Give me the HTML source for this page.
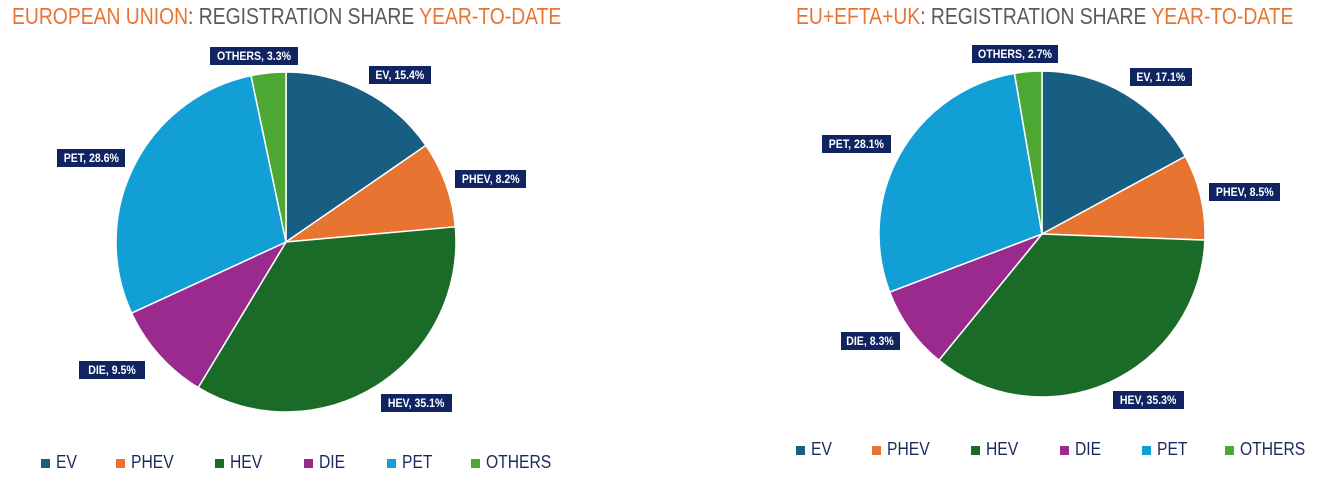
<!DOCTYPE html>
<html><head><meta charset="utf-8"><style>
html,body{margin:0;padding:0;background:#fff;}
body{width:1336px;height:483px;position:relative;overflow:hidden;font-family:"Liberation Sans",sans-serif;}
.t{position:absolute;top:3px;font-size:23px;color:#595959;white-space:nowrap;transform:scaleX(0.84);transform-origin:0 0;}
.o{color:#e87432}
.lb{position:absolute;background:#0f2460;color:#fff;font-weight:bold;font-size:12px;height:18px;line-height:18px;text-align:center;white-space:nowrap;overflow:hidden;}
.lb span{display:inline-block;transform:scaleX(0.88);}
.lg{position:absolute;font-size:18px;color:#1a2a5e;white-space:nowrap;transform:scaleX(0.87);transform-origin:0 0;}
.sq{position:absolute;width:9px;height:9px;}
</style></head><body>
<div class="t" style="left:12px"><span class="o">EUROPEAN UNION</span>: REGISTRATION SHARE <span class="o">YEAR-TO-DATE</span></div>
<div class="t" style="left:796px"><span class="o">EU+EFTA+UK</span>: REGISTRATION SHARE <span class="o">YEAR-TO-DATE</span></div>
<svg id="s" width="1336" height="483" style="position:absolute;left:0;top:0"></svg>
<div class="lb" style="left:210px;top:47px;width:88px"><span>OTHERS, 3.3%</span></div>
<div class="lb" style="left:369px;top:66px;width:62px"><span>EV, 15.4%</span></div>
<div class="lb" style="left:455px;top:170px;width:71px"><span>PHEV, 8.2%</span></div>
<div class="lb" style="left:57px;top:149px;width:68px"><span>PET, 28.6%</span></div>
<div class="lb" style="left:79px;top:361px;width:66px"><span>DIE, 9.5%</span></div>
<div class="lb" style="left:381px;top:394px;width:71px"><span>HEV, 35.1%</span></div>
<div class="lb" style="left:972px;top:45px;width:86px"><span>OTHERS, 2.7%</span></div>
<div class="lb" style="left:1130px;top:68px;width:62px"><span>EV, 17.1%</span></div>
<div class="lb" style="left:1209px;top:183px;width:71px"><span>PHEV, 8.5%</span></div>
<div class="lb" style="left:822px;top:135px;width:69px"><span>PET, 28.1%</span></div>
<div class="lb" style="left:841px;top:332px;width:59px"><span>DIE, 8.3%</span></div>
<div class="lb" style="left:1113px;top:391px;width:71px"><span>HEV, 35.3%</span></div>
<div id="lg"></div>
<script>
var C=["#175e82","#e87432","#1a6b28","#9b2a8f","#129fd6","#4ca832"];
function pie(cx,cy,r,v){var s="",a=0,t=v.reduce((x,y)=>x+y,0);
v.forEach(function(p,i){var a2=a+p/t*2*Math.PI;
var x1=cx+r*Math.sin(a),y1=cy-r*Math.cos(a),x2=cx+r*Math.sin(a2),y2=cy-r*Math.cos(a2);
s+='<path d="M'+cx+','+cy+'L'+x1+','+y1+'A'+r+','+r+' 0 '+(a2-a>Math.PI?1:0)+' 1 '+x2+','+y2+'Z" fill="'+C[i]+'" stroke="#fff" stroke-width="1.5"/>';a=a2;});return s;}
document.getElementById("s").innerHTML=pie(286,242,170,[15.4,8.2,35.1,9.5,28.6,3.3])+pie(1042,234,163,[17.1,8.5,35.3,8.3,28.1,2.7]);
var N=["EV","PHEV","HEV","DIE","PET","OTHERS"],h="";
var L=[41,116,215,304,387,471],R=[796,872,971,1060,1142,1225];
N.forEach(function(n,i){
h+='<div class="sq" style="left:'+L[i]+'px;top:459px;background:'+C[i]+'"></div><div class="lg" style="left:'+(L[i]+15)+'px;top:452px">'+n+'</div>';
h+='<div class="sq" style="left:'+R[i]+'px;top:446px;background:'+C[i]+'"></div><div class="lg" style="left:'+(R[i]+15)+'px;top:439px">'+n+'</div>';});
document.getElementById("lg").innerHTML=h;
</script>
</body></html>
